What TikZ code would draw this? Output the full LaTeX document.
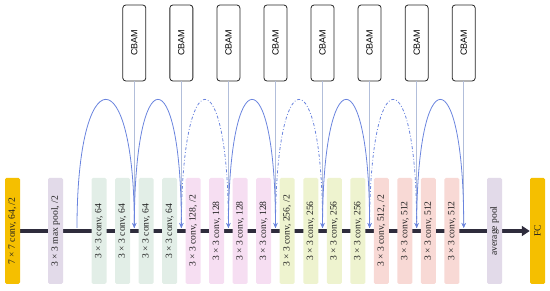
\documentclass[tikz,border=0pt]{standalone}
\usepackage{fontspec}
\setmainfont{Liberation Serif}
\newfontfamily\cbamfont{Liberation Sans}
\usetikzlibrary{arrows.meta,backgrounds}
\definecolor{inputorange}{HTML}{F5BF00}
\definecolor{poolpurple}{HTML}{E2DAE9}
\definecolor{green64}{HTML}{E2EEE7}
\definecolor{pink128}{HTML}{F6DEF2}
\definecolor{yellow256}{HTML}{EEF3CF}
\definecolor{red512}{HTML}{F8D9D5}
\definecolor{linedark}{HTML}{2E2C3C}
\definecolor{arcblue}{HTML}{6A84DE}
\definecolor{cbamgray}{HTML}{B2BEDA}
\tikzset{
	blockbox/.style={rotate=90, minimum width=106pt, minimum height=15pt, inner sep=0pt, rounded corners=1.5pt, text=black!88, font=\fontsize{9.6}{10}\selectfont},
	cbam/.style={rotate=90, draw=black!85, fill=white, line width=0.8pt, rounded corners=3pt, minimum width=76pt, minimum height=23pt, inner sep=0pt, font=\cbamfont\fontsize{9}{10}\selectfont},
	mainline/.style={draw=linedark, line width=4pt, -{Triangle[length=8pt,width=10pt]}},
	shortcut/.style={draw=arcblue, line width=0.8pt, -{Stealth[length=5pt,width=4.5pt]}},
	dashdotarc/.style={dash pattern=on 3pt off 2pt on 0.8pt off 2pt},
	attn/.style={draw=cbamgray, line width=0.8pt, -{Stealth[length=5pt,width=4.5pt]}}
}
\begin{document}
\begin{tikzpicture}[x=1pt,y=-1pt]
		\useasboundingbox (0,0) rectangle (550,291);
		\node[blockbox, fill=inputorange] (conv1) at (12.5,231) {7 × 7 conv, 64, /2};
		\node[blockbox, fill=poolpurple] (maxpool) at (55.5,231) {3 × 3 max pool, /2};
		\foreach \i/\fc/\lbl in {0/green64/64,1/green64/64,2/green64/64,3/green64/64,4/pink128/{128, /2},5/pink128/128,6/pink128/128,7/pink128/128,8/yellow256/{256, /2},9/yellow256/256,10/yellow256/256,11/yellow256/256,12/red512/{512, /2},13/red512/512,14/red512/512,15/red512/512}{
			\node[blockbox, fill=\fc] (c\i) at ({99+23.53*\i},231) {3 × 3 conv, \lbl};
			\coordinate (g\i) at ({99+23.53*(\i+0.5)},228);
		}
		\node[blockbox, fill=poolpurple] (avgpool) at (494.5,231) {average pool};
		\node[blockbox, fill=inputorange] (fc) at (537.5,231) {FC};
		\coordinate (gin) at (77,228);
		\begin{scope}[on background layer]
			\draw[mainline] (conv1) -- (fc);
		\end{scope}
		\foreach \i [count=\j] in {1,3,...,15}{
			\node[cbam] (cbam\j) at ({99+23.53*(\i+0.5)},43) {CBAM};
			\draw[attn] (cbam\j) -- (g\i);
		}
		\foreach \a/\b/\sty in {gin/g1/solid,g1/g3/solid,g3/g5/dashdotarc,g5/g7/solid,g7/g9/dashdotarc,g9/g11/solid,g11/g13/dashdotarc,g13/g15/solid}
			\draw[shortcut, \sty] (\a) .. controls +(0,-171) and +(0,-171) .. (\b);
		\end{tikzpicture}
\end{document}
